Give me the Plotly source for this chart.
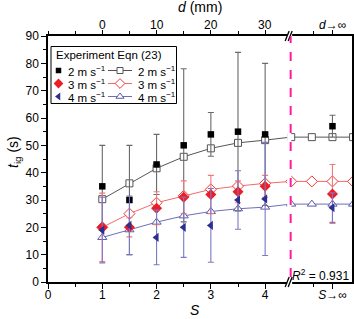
import plotly.graph_objects as go

# ---------------- data ----------------
S = [1, 1.5, 2, 2.5, 3, 3.5, 4]

exp_2 = [35, 30, 43, 50, 54, 55, 54]
err_2 = [15, 20, 11, 28, 8, 29, 26]
exp_3 = [20, 20, 27, 31, 32, 33, 35]
err_3 = [12.5, 3.5, 6, 6, 7, 4, 4]
exp_4 = [19, 20.7, 16.3, 20, 20.7, 30, 30.4]
err_4 = [12, 10.7, 10, 11, 13.5, 10.7, 20.7]

exp_inf = [57, 32.2, 27.2]
err_inf = [4, 10.8, 5.4]

mod_2 = [30.3, 36.1, 41.6, 45.8, 48.9, 50.9, 51.9]
mod_3 = [20, 25, 29, 31.5, 33.9, 35.1, 36.1]
mod_4 = [16.3, 19.1, 21.9, 24.2, 25.8, 26.8, 27.4]
mod_inf = [53, 36.8, 28.5]

bottom_ticks = ["0", "1", "2", "3", "4"]
top_ticks = ["0", "10", "20", "30"]
speeds = ["2 m s<sup>−1</sup>", "3 m s<sup>−1</sup>", "4 m s<sup>−1</sup>"]
r2_text = "<i>R</i><sup>2</sup> = 0.931"

# ---------------- layout constants ----------------
W, H = 354, 319
L, R, T, B = 48, 2, 36, 37
PX0, PX1 = L, W - R
PY0, PY1 = T, H - B
BREAK = 4.47
INF = 5.24
STEP = 0.38
XMAX = 5.6
FONT = "Arial, Liberation Sans, Helvetica, sans-serif"

def px(x):
    return (x - PX0) / (PX1 - PX0)

def py(y):
    return (PY1 - y) / (PY1 - PY0)

exp_styles = [
    dict(symbol="square", color="black", size=6.5, ebar="#6a6a6a"),
    dict(symbol="diamond", color="#ee1c25", size=8.5, ebar="#f07a7a"),
    dict(symbol="triangle-left", color="#2b2f8f", size=8, ebar="#7a7ac4"),
]
mod_styles = [
    dict(symbol="square", color="#555555", line="#555555", size=7),
    dict(symbol="diamond", color="#f03a3a", line="#f46a6a", size=8.5),
    dict(symbol="triangle-up", color="#5a5aaa", line="#6e6eb8", size=8),
]

fig = go.Figure()

exps = [(exp_2, err_2), (exp_3, err_3), (exp_4, err_4)]
mods = [mod_2, mod_3, mod_4]
right_x = [BREAK + 0.01 + STEP * k for k in range(4)]

# model curves (white-filled open markers)
for i, m in enumerate(mods):
    st = mod_styles[i]
    fig.add_trace(go.Scatter(x=[S[-1], BREAK], y=[m[-1], mod_inf[i]], mode="lines",
                             line=dict(color=st["line"], width=1), showlegend=False, hoverinfo="skip"))
    fig.add_trace(go.Scatter(x=S, y=m, mode="lines+markers",
                             line=dict(color=st["line"], width=1),
                             marker=dict(symbol=st["symbol"], size=st["size"], color="white",
                                         line=dict(color=st["color"], width=1)),
                             showlegend=False))
    fig.add_trace(go.Scatter(x=right_x, y=[mod_inf[i]] * len(right_x), mode="lines+markers",
                             line=dict(color=st["line"], width=1),
                             marker=dict(symbol=st["symbol"], size=st["size"], color="white",
                                         line=dict(color=st["color"], width=1)),
                             showlegend=False))

# experiments
for i, (e, er) in enumerate(exps):
    st = exp_styles[i]
    fig.add_trace(go.Scatter(x=S + [INF], y=e + [exp_inf[i]], mode="markers",
                             marker=dict(symbol=st["symbol"], size=st["size"], color=st["color"],
                                         line=dict(width=0)),
                             error_y=dict(type="data", array=er + [err_inf[i]], color=st["ebar"],
                                          thickness=1.1, width=3),
                             showlegend=False))

# dummy trace for the top axis
fig.add_trace(go.Scatter(x=[0], y=[0], xaxis="x2", mode="markers", marker=dict(opacity=0),
                         showlegend=False, hoverinfo="skip"))

# ---------------- legend (manual, pixel coordinates on helper axes) ----------------
leg_rows = [70.5, 83.5, 96.5]
for i in range(3):
    st = exp_styles[i]
    fig.add_trace(go.Scatter(x=[58.5], y=[leg_rows[i]], xaxis="x3", yaxis="y3", mode="markers",
                             marker=dict(symbol=st["symbol"], size=st["size"] - 1, color=st["color"]),
                             showlegend=False, hoverinfo="skip"))
    ms = mod_styles[i]
    fig.add_trace(go.Scatter(x=[108, 132], y=[leg_rows[i]] * 2, xaxis="x3", yaxis="y3", mode="lines",
                             line=dict(color=ms["line"], width=1), showlegend=False, hoverinfo="skip"))
    fig.add_trace(go.Scatter(x=[120], y=[leg_rows[i]], xaxis="x3", yaxis="y3", mode="markers",
                             marker=dict(symbol=ms["symbol"], size=ms["size"] - 1, color="white",
                                         line=dict(color=ms["color"], width=1)),
                             showlegend=False, hoverinfo="skip"))

annotations = []
annotations.append(dict(x=px(53.5), y=py(54.5), xref="paper", yref="paper", text="Experiment Eqn (23)",
                        showarrow=False, xanchor="left", yanchor="middle",
                        font=dict(size=11.5, color="black", family=FONT)))
for i in range(3):
    for xx in (65.5, 135.5):
        annotations.append(dict(x=px(xx), y=py(leg_rows[i]), xref="paper", yref="paper", text=speeds[i],
                                showarrow=False, xanchor="left", yanchor="middle",
                                font=dict(size=11.5, color="black", family=FONT)))

# top-axis (d) tick labels, placed on the x scale
top_vals = [1, 2, 3, 4, INF]
for v, t in zip(top_vals, top_ticks + ["<i>d</i>→∞"]):
    annotations.append(dict(x=v, y=py(25), xref="x", yref="paper", text=t,
                            showarrow=False, xanchor="center", yanchor="middle",
                            font=dict(size=12, color="black", family=FONT)))

annotations.append(dict(x=px(350.5), y=py(275), xref="paper", yref="paper", text=r2_text,
                        showarrow=False, xanchor="right", yanchor="middle",
                        font=dict(size=12, color="black", family=FONT)))
annotations.append(dict(x=px(200), y=py(7), xref="paper", yref="paper", text="<i>d</i> (mm)",
                        showarrow=False, xanchor="center", yanchor="middle",
                        font=dict(size=14, color="black", family=FONT)))
annotations.append(dict(x=px(195), y=py(310), xref="paper", yref="paper", text="<i>S</i>",
                        showarrow=False, xanchor="center", yanchor="middle",
                        font=dict(size=14, color="black", family=FONT)))
annotations.append(dict(x=px(14), y=py(152), xref="paper", yref="paper",
                        text="<i>t</i><sub>ig</sub> (s)", textangle=-90,
                        showarrow=False, xanchor="center", yanchor="middle",
                        font=dict(size=14, color="black", family=FONT)))

# ---------------- shapes ----------------
shapes = []
shapes.append(dict(type="rect", xref="x3", yref="y3", x0=51, x1=176.5, y0=46.5, y1=103.5,
                   line=dict(color="black", width=1), fillcolor="white", layer="below"))
bx = PX0 + (BREAK / XMAX) * (PX1 - PX0)
shapes.append(dict(type="rect", xref="paper", yref="paper", x0=px(bx - 3.5), x1=px(bx + 0.6),
                   y0=py(PY1 - 1), y1=py(PY0 + 1), line=dict(width=0), fillcolor="white", layer="above"))
for yy in (PY0, PY1):
    shapes.append(dict(type="rect", xref="paper", yref="paper", x0=px(bx - 3.5), x1=px(bx + 1.5),
                       y0=py(yy + 2.5), y1=py(yy - 2.5), line=dict(width=0), fillcolor="white", layer="above"))
    for dx in (-3.5, -0.5):
        shapes.append(dict(type="line", xref="paper", yref="paper",
                           x0=px(bx + dx - 2), y0=py(yy + 5), x1=px(bx + dx + 2), y1=py(yy - 5),
                           line=dict(color="black", width=1.3), layer="above"))
shapes.append(dict(type="line", xref="x", yref="paper", x0=BREAK, x1=BREAK, y0=0.02, y1=1,
                   line=dict(color="#ff1aa0", width=2, dash="dash"), layer="above"))

tickfont = dict(size=12, color="black", family=FONT)
fig.update_layout(
    width=W, height=H,
    margin=dict(l=L, r=R, t=T, b=B, pad=0, autoexpand=False),
    paper_bgcolor="white", plot_bgcolor="white",
    showlegend=False,
    font=dict(family=FONT, color="black"),
    xaxis=dict(range=[0, XMAX], tickvals=[0, 1, 2, 3, 4, INF],
               ticktext=bottom_ticks + ["<i>S</i>→∞"],
               ticks="outside", ticklen=5, tickwidth=1.3, tickcolor="black",
               ticklabelstandoff=-4, automargin=False,
               minor=dict(tickvals=[0.5, 1.5, 2.5, 3.5, 4.89], ticks="outside", ticklen=3,
                          tickwidth=1.3, tickcolor="black"),
               showline=True, linewidth=1.5, linecolor="black", mirror=False,
               showgrid=False, zeroline=False, tickfont=tickfont),
    xaxis2=dict(range=[0, XMAX], overlaying="x", side="top", anchor="y",
                tickvals=top_vals, showticklabels=False,
                ticks="outside", ticklen=4, tickwidth=1.3, tickcolor="black", automargin=False,
                minor=dict(tickvals=[0, 0.5, 1.5, 2.5, 3.5, 4.89], ticks="outside", ticklen=3,
                           tickwidth=1.3, tickcolor="black"),
                showline=True, linewidth=1.5, linecolor="black",
                showgrid=False, zeroline=False),
    yaxis=dict(range=[0, 90], tickvals=list(range(0, 91, 10)),
               ticks="outside", ticklen=5, tickwidth=1.3, tickcolor="black", automargin=False,
               minor=dict(dtick=5, ticks="outside", ticklen=3, tickwidth=1.3, tickcolor="black"),
               showline=True, linewidth=1.5, linecolor="black", mirror=True,
               showgrid=False, zeroline=False, tickfont=tickfont),
    xaxis3=dict(range=[PX0, PX1], overlaying="x", anchor="y3", visible=False, fixedrange=True),
    yaxis3=dict(range=[PY1, PY0], overlaying="y", anchor="x3", visible=False, fixedrange=True),
    annotations=annotations,
    shapes=shapes,
)

fig.write_html("out.html", config={"displayModeBar": False},
               post_script="document.body.style.margin='0';document.body.style.padding='0';")
